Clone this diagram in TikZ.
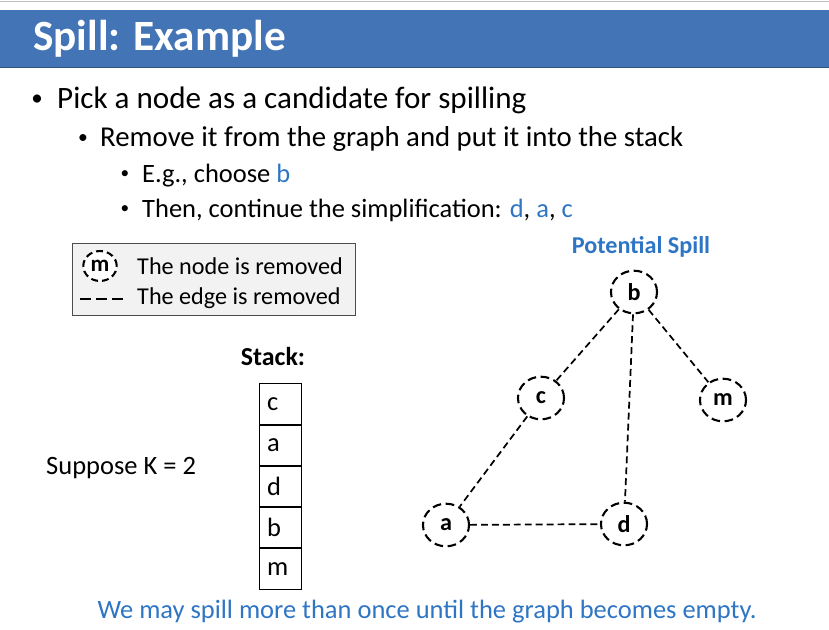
\documentclass[tikz,border=0pt]{standalone}
\usepackage{fontspec}
\setmainfont{Carlito}
\usepackage{tikz}
\usetikzlibrary{shapes.geometric}
\usetikzlibrary{positioning}
\definecolor{barblue}{RGB}{66,116,182}
\definecolor{textblue}{RGB}{46,117,196}
\definecolor{legendgray}{RGB}{242,242,242}
\tikzset{
	vnode/.style={ellipse,draw,fill=white,line width=1.8pt,dash pattern=on 7.5pt off 4pt,
		minimum width=40pt,minimum height=37pt,inner sep=0pt,font=\fontsize{21}{25}\selectfont\bfseries},
	redge/.style={line width=1.5pt,dash pattern=on 6pt off 3.5pt},
	txt/.style={anchor=base west,inner sep=0pt},
	dot/.style={anchor=center,inner sep=0pt},
	cell/.style={draw,line width=0.8pt,minimum height=35pt,text width=22.5pt,inner xsep=7pt,
		align=left,font=\fontsize{23}{27}\selectfont}
}

\begin{document}
\begin{tikzpicture}[x=0.8685pt,y=-0.8685pt]
	\useasboundingbox (0,0) rectangle (829,629);

	% ==================================================
	% 1. TITLE BAR
	% ==================================================
	\draw[gray!50] (0,1) -- (829,1);
	\fill[barblue] (0,10) rectangle (829,67);
	\draw[barblue!70!black] (0,67) -- (829,67);
	\node[txt,text=white,font=\fontsize{37.5}{45}\selectfont\bfseries] (title) at (33,50) {Spill: Example};

	% ==================================================
	% 2. BULLET TEXT
	% ==================================================
	\node[dot,font=\fontsize{20}{24}\selectfont] (b1) at (37,100) {•};
	\node[txt,font=\fontsize{27}{32}\selectfont] (t1) at (57,108) {Pick a node as a candidate for spilling};
	\node[dot,font=\fontsize{17}{20}\selectfont] (b2) at (83,139) {•};
	\node[txt,font=\fontsize{25}{30}\selectfont] (t2) at (100,146) {Remove it from the graph and put it into the stack};
	\node[dot,font=\fontsize{15}{18}\selectfont] (b3) at (125,175) {•};
	\node[txt,font=\fontsize{23}{27}\selectfont] (t3) at (142,182) {E.g., choose \textcolor{textblue}{b}};
	\node[dot,font=\fontsize{15}{18}\selectfont] (b4) at (125,210) {•};
	\node[txt,font=\fontsize{23}{27}\selectfont] (t4) at (142,217) {Then, continue the simplification: \textcolor{textblue}{d}, \textcolor{textblue}{a}, \textcolor{textblue}{c}};

	% ==================================================
	% 3. LEGEND
	% ==================================================
	\draw[fill=legendgray,draw=black!70,line width=0.8pt] (72,243) rectangle (355,315);
	\node[ellipse,draw,fill=white,line width=1.8pt,dash pattern=on 6pt off 3.5pt,minimum width=29pt,minimum height=26pt,
		inner sep=0pt,font=\fontsize{20}{24}\selectfont\bfseries] (lm) at (100,266) {m};
	\node[txt,font=\fontsize{21}{25}\selectfont] (l1) at (137,274) {The node is removed};
	\coordinate (ls) at (80,299);
	\coordinate (le) at (123,299);
	\draw[line width=1.6pt,dash pattern=on 9.5pt off 4.5pt] (ls) -- (le);
	\node[txt,font=\fontsize{21}{25}\selectfont] (l2) at (137,304) {The edge is removed};

	% ==================================================
	% 4. STACK
	% ==================================================
	\node[font=\fontsize{22.5}{27}\selectfont\bfseries,anchor=base] (stk) at (273,365) {Stack:};
	\node[cell] (s1) at (280,404) {c};
	\node[cell,below=0pt of s1] (s2) {a};
	\node[cell,below=0pt of s2] (s3) {d};
	\node[cell,below=0pt of s3] (s4) {b};
	\node[cell,below=0pt of s4] (s5) {m};

	\node[txt,font=\fontsize{23}{27}\selectfont] (kk) at (46,474) {Suppose K = 2};

	% ==================================================
	% 5. INTERFERENCE GRAPH
	% ==================================================
	\node[anchor=base,text=textblue,font=\fontsize{21}{25}\selectfont\bfseries] (ps) at (641,253) {Potential Spill};
	\node[vnode] (b) at (634,292) {b};
	\node[vnode] (c) at (541,398) {c};
	\node[vnode] (m) at (723,400) {m};
	\node[vnode] (a) at (446,525) {a};
	\node[vnode] (d) at (624,524) {d};

	\draw[redge] (b) -- (c);
	\draw[redge] (b) -- (d);
	\draw[redge] (b) -- (m);
	\draw[redge] (c) -- (a);
	\draw[redge] (a) -- (d);

	% bottom remark
	\node[anchor=base,text=textblue,font=\fontsize{23}{27}\selectfont] (note) at (427,618) {We may spill more than once until the graph becomes empty.};

\end{tikzpicture}
\end{document}
